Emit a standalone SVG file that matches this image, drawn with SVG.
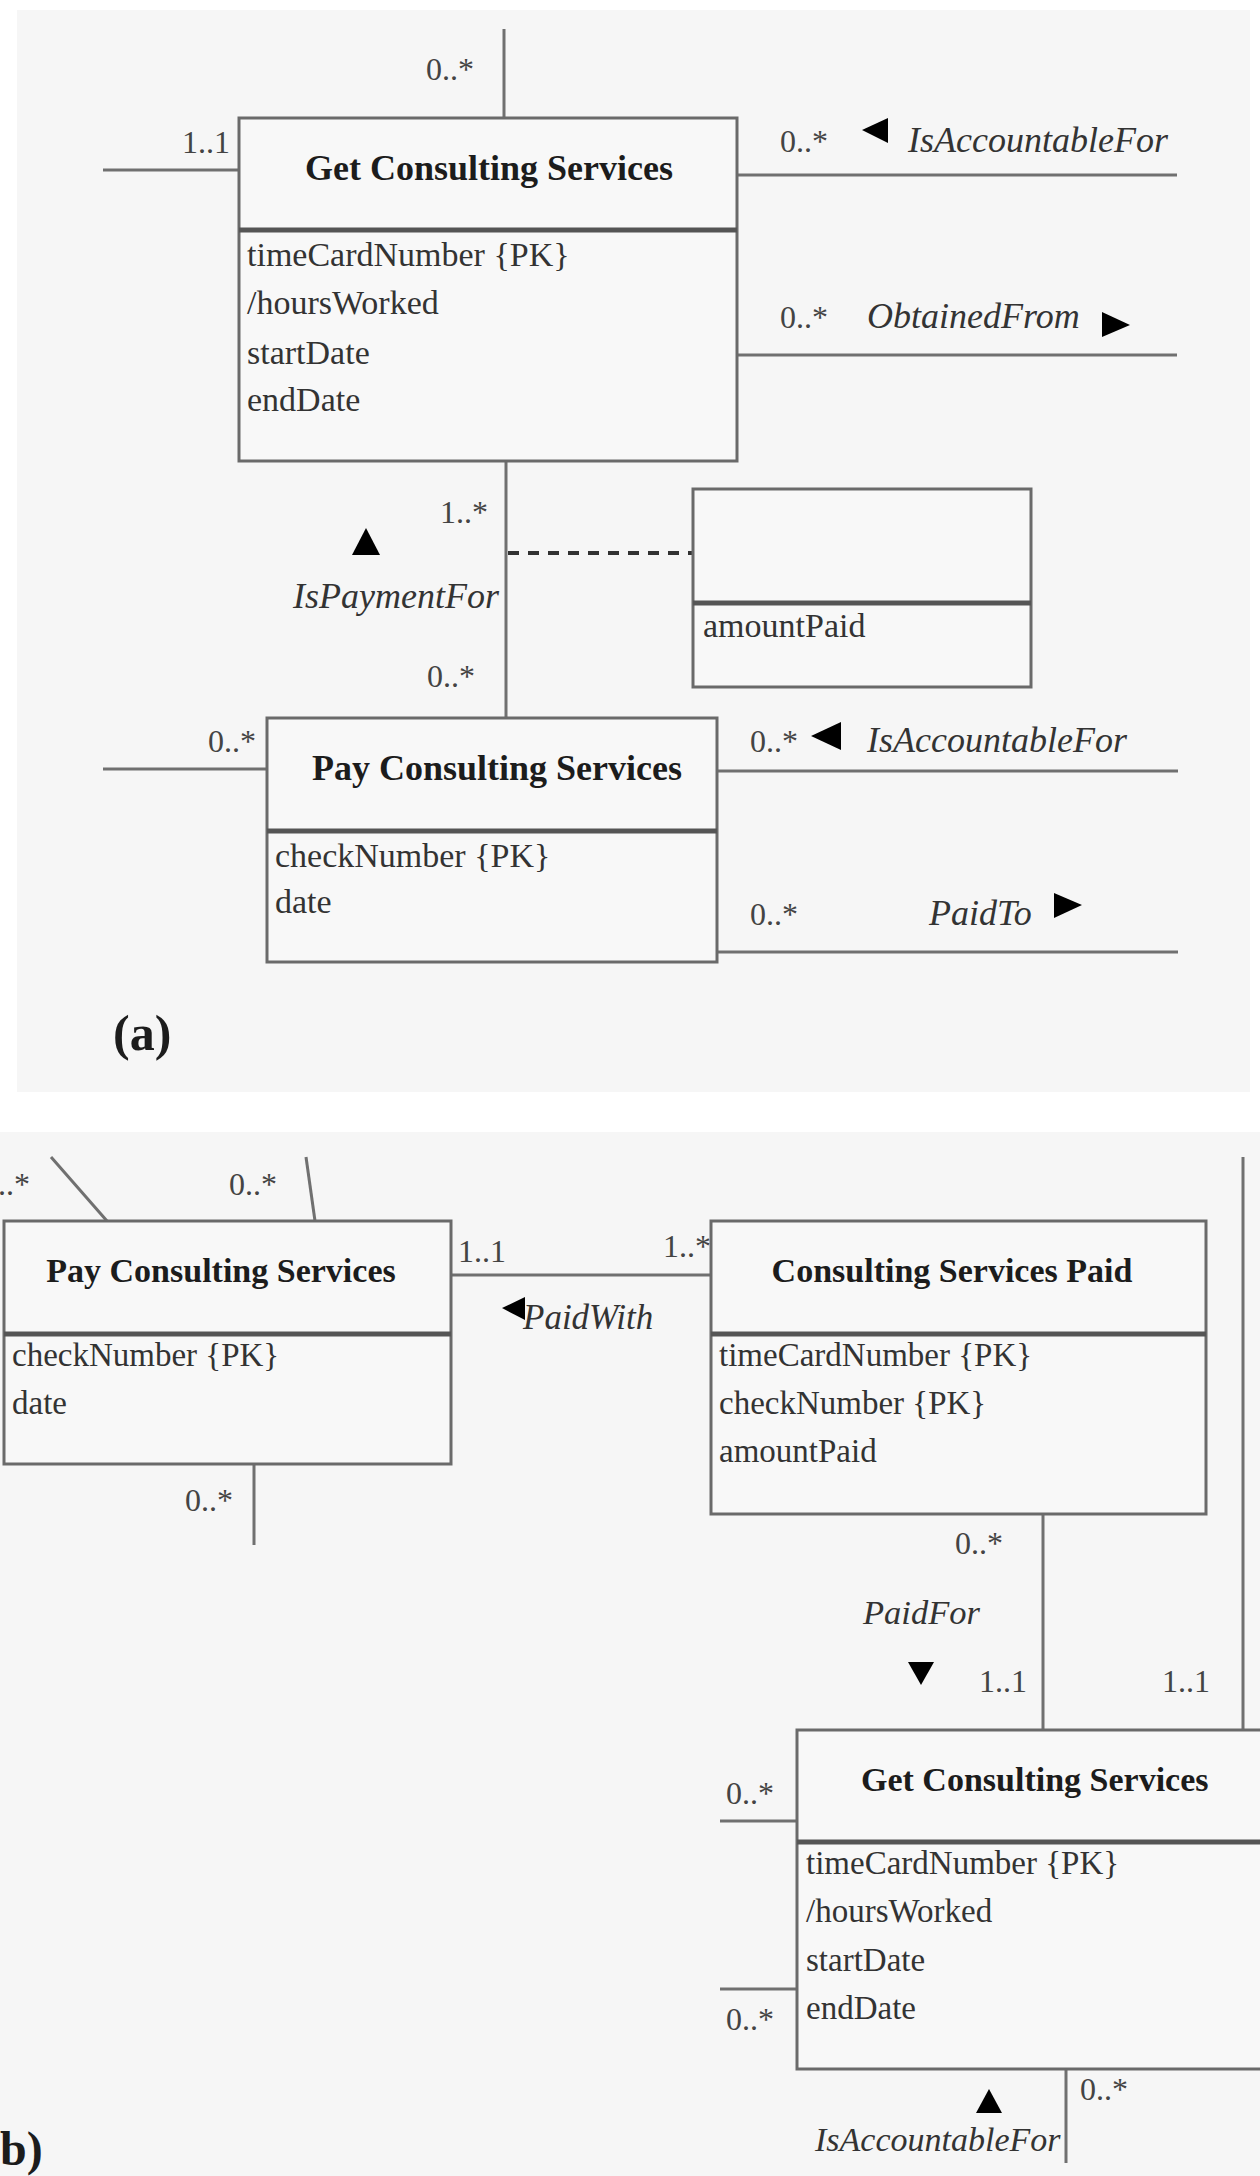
<svg xmlns="http://www.w3.org/2000/svg" width="1260" height="2176" viewBox="0 0 1260 2176">
  <style>
    .panel { fill: #f6f6f6; stroke: none; }
    .box { fill: #f8f8f8; stroke: #6a6a6a; stroke-width: 3; }
    .div { stroke: #555; stroke-width: 5; }
    .conn { stroke: #707070; stroke-width: 3; fill: none; }
    .dash { stroke: #333; stroke-width: 4; stroke-dasharray: 11 9; fill: none; }
    .tri { fill: #000; }
    .title { font-family: "Liberation Serif", "Times New Roman", serif; font-weight: bold; fill: #1c1c1c; }
    .attr { font-family: "Liberation Serif", "Times New Roman", serif; fill: #333; }
    .mult { font-family: "Liberation Serif", "Times New Roman", serif; font-size: 32px; fill: #444; }
    .role { font-family: "Liberation Serif", "Times New Roman", serif; font-style: italic; fill: #333; }
    .cap { font-family: "Liberation Serif", "Times New Roman", serif; font-weight: bold; fill: #1c1c1c; }
  </style>

  <rect x="0" y="0" width="1260" height="2176" fill="#ffffff"/>
  <!-- panel backgrounds -->
  <rect class="panel" x="17" y="10" width="1233" height="1082"/>
  <rect class="panel" x="0" y="1132" width="1260" height="1044"/>

  <!-- connectors -->
  <g id="connectors">
    <!-- (a) -->
    <line class="conn" x1="504" y1="29" x2="504" y2="118"/>
    <line class="conn" x1="103" y1="170" x2="239" y2="170"/>
    <line class="conn" x1="737" y1="175" x2="1177" y2="175"/>
    <line class="conn" x1="737" y1="355" x2="1177" y2="355"/>
    <line class="conn" x1="506" y1="461" x2="506" y2="718"/>
    <line class="dash" x1="508" y1="553" x2="693" y2="553"/>
    <line class="conn" x1="103" y1="769" x2="267" y2="769"/>
    <line class="conn" x1="717" y1="771" x2="1178" y2="771"/>
    <line class="conn" x1="717" y1="952" x2="1178" y2="952"/>
    <!-- (b) -->
    <line class="conn" x1="51" y1="1157" x2="107" y2="1221"/>
    <line class="conn" x1="306" y1="1157" x2="315" y2="1221"/>
    <line class="conn" x1="254" y1="1464" x2="254" y2="1545"/>
    <line class="conn" x1="451" y1="1275" x2="711" y2="1275"/>
    <line class="conn" x1="1243" y1="1157" x2="1243" y2="1730"/>
    <line class="conn" x1="1043" y1="1514" x2="1043" y2="1730"/>
    <line class="conn" x1="720" y1="1821" x2="797" y2="1821"/>
    <line class="conn" x1="720" y1="1989" x2="797" y2="1989"/>
    <line class="conn" x1="1066" y1="2069" x2="1066" y2="2163"/>

    <!-- direction triangles -->
    <polygon class="tri" points="862,130 888,118 888,143"/>
    <polygon class="tri" points="1102,312 1102,337 1130,325"/>
    <polygon class="tri" points="366,528 352,555 380,555"/>
    <polygon class="tri" points="811,736 841,722 841,750"/>
    <polygon class="tri" points="1054,893 1054,918 1082,905"/>
    <polygon class="tri" points="502,1308 525,1297 525,1320"/>
    <polygon class="tri" points="908,1662 934,1662 921,1685"/>
    <polygon class="tri" points="989,2089 976,2113 1002,2113"/>

    <!-- multiplicities -->
    <text class="mult" x="426" y="80">0..*</text>
    <text class="mult" x="182" y="153">1..1</text>
    <text class="mult" x="780" y="152">0..*</text>
    <text class="mult" x="780" y="328">0..*</text>
    <text class="mult" x="440" y="523">1..*</text>
    <text class="mult" x="427" y="687">0..*</text>
    <text class="mult" x="208" y="752">0..*</text>
    <text class="mult" x="750" y="752">0..*</text>
    <text class="mult" x="750" y="925">0..*</text>
    <text class="mult" x="-2" y="1195">..*</text>
    <text class="mult" x="229" y="1195">0..*</text>
    <text class="mult" x="185" y="1511">0..*</text>
    <text class="mult" x="458" y="1262">1..1</text>
    <text class="mult" x="663" y="1257">1..*</text>
    <text class="mult" x="955" y="1554">0..*</text>
    <text class="mult" x="979" y="1692">1..1</text>
    <text class="mult" x="1162" y="1692">1..1</text>
    <text class="mult" x="726" y="1804">0..*</text>
    <text class="mult" x="726" y="2030">0..*</text>
    <text class="mult" x="1080" y="2100">0..*</text>

    <!-- role names -->
    <text class="role" x="908" y="152" font-size="36">IsAccountableFor</text>
    <text class="role" x="867" y="328" font-size="36">ObtainedFrom</text>
    <text class="role" x="293" y="608" font-size="36">IsPaymentFor</text>
    <text class="role" x="867" y="752" font-size="36">IsAccountableFor</text>
    <text class="role" x="929" y="925" font-size="36">PaidTo</text>
    <text class="role" x="523" y="1329" font-size="35">PaidWith</text>
    <text class="role" x="863" y="1624" font-size="34.5">PaidFor</text>
    <text class="role" x="815" y="2151" font-size="34">IsAccountableFor</text>
  </g>

  <!-- (a) Get Consulting Services -->
  <g id="get-consulting-a">
    <rect class="box" x="239" y="118" width="498" height="343"/>
    <line class="div" x1="239" y1="230" x2="737" y2="230"/>
    <text class="title" x="489" y="180" font-size="36" text-anchor="middle">Get Consulting Services</text>
    <text class="attr" x="247" y="266" font-size="34">timeCardNumber {PK}</text>
    <text class="attr" x="247" y="314" font-size="34">/hoursWorked</text>
    <text class="attr" x="247" y="364" font-size="34">startDate</text>
    <text class="attr" x="247" y="411" font-size="34">endDate</text>
  </g>

  <!-- (a) association class -->
  <g id="payment-link-a">
    <rect class="box" x="693" y="489" width="338" height="198"/>
    <line class="div" x1="693" y1="603" x2="1031" y2="603"/>
    <text class="attr" x="703" y="637" font-size="34">amountPaid</text>
  </g>

  <!-- (a) Pay Consulting Services -->
  <g id="pay-consulting-a">
    <rect class="box" x="267" y="718" width="450" height="244"/>
    <line class="div" x1="267" y1="831" x2="717" y2="831"/>
    <text class="title" x="497" y="780" font-size="36" text-anchor="middle">Pay Consulting Services</text>
    <text class="attr" x="275" y="867" font-size="34">checkNumber {PK}</text>
    <text class="attr" x="275" y="913" font-size="34">date</text>
  </g>

  <text class="cap" x="113" y="1050" font-size="50">(a)</text>

  <!-- (b) Pay Consulting Services -->
  <g id="pay-consulting-b">
    <rect class="box" x="4" y="1221" width="447" height="243"/>
    <line class="div" x1="4" y1="1334" x2="451" y2="1334"/>
    <text class="title" x="221" y="1282" font-size="34" text-anchor="middle">Pay Consulting Services</text>
    <text class="attr" x="12" y="1366" font-size="33">checkNumber {PK}</text>
    <text class="attr" x="12" y="1414" font-size="33">date</text>
  </g>

  <!-- (b) Consulting Services Paid -->
  <g id="consulting-paid-b">
    <rect class="box" x="711" y="1221" width="495" height="293"/>
    <line class="div" x1="711" y1="1334" x2="1206" y2="1334"/>
    <text class="title" x="952" y="1282" font-size="34" text-anchor="middle">Consulting Services Paid</text>
    <text class="attr" x="719" y="1366" font-size="33">timeCardNumber {PK}</text>
    <text class="attr" x="719" y="1414" font-size="33">checkNumber {PK}</text>
    <text class="attr" x="719" y="1462" font-size="33">amountPaid</text>
  </g>

  <!-- (b) Get Consulting Services -->
  <g id="get-consulting-b">
    <rect class="box" x="797" y="1730" width="503" height="339"/>
    <line class="div" x1="797" y1="1842" x2="1300" y2="1842"/>
    <text class="title" x="861" y="1791" font-size="34">Get Consulting Services</text>
    <text class="attr" x="806" y="1874" font-size="33">timeCardNumber {PK}</text>
    <text class="attr" x="806" y="1922" font-size="33">/hoursWorked</text>
    <text class="attr" x="806" y="1971" font-size="33">startDate</text>
    <text class="attr" x="806" y="2019" font-size="33">endDate</text>
  </g>

  <text class="cap" x="0" y="2165" font-size="48">b)</text>
</svg>
